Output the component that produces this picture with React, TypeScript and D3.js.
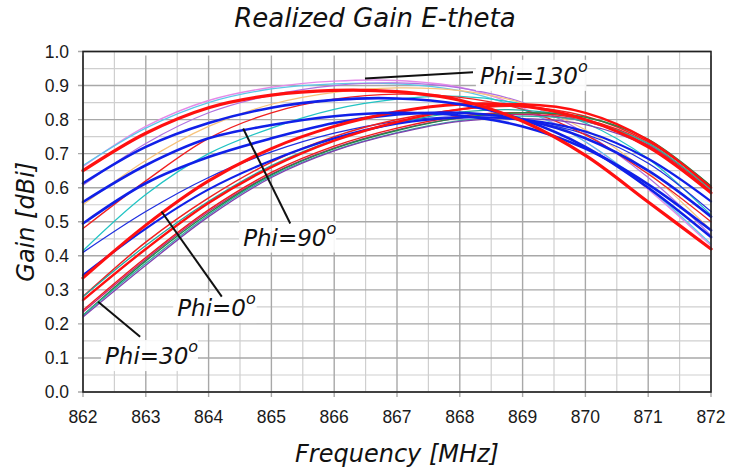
import React, { useEffect } from 'react';
import * as d3 from 'd3';

const freqs = [862, 863, 864, 865, 866, 867, 868, 869, 870, 871, 872];
const xTicks = [862, 863, 864, 865, 866, 867, 868, 869, 870, 871, 872];
const yTicks = [0, 0.1, 0.2, 0.3, 0.4, 0.5, 0.6, 0.7, 0.8, 0.9, 1.0];

// gain per curve, one value per frequency above
const pinkTop = [0.662, 0.78, 0.856, 0.895, 0.913, 0.915, 0.895, 0.835, 0.735, 0.595, 0.43];
const cyanTop = [0.665, 0.775, 0.85, 0.89, 0.905, 0.905, 0.885, 0.83, 0.735, 0.6, 0.435];
const redTop = [0.65, 0.76, 0.835, 0.872, 0.886, 0.882, 0.857, 0.795, 0.695, 0.558, 0.42];
const violetTop = [0.607, 0.73, 0.82, 0.872, 0.9, 0.908, 0.893, 0.85, 0.76, 0.63, 0.46];
const blue1 = [0.613, 0.72, 0.79, 0.835, 0.858, 0.862, 0.845, 0.8, 0.72, 0.6, 0.455];
const orange = [0.55, 0.68, 0.78, 0.845, 0.88, 0.893, 0.885, 0.848, 0.77, 0.645, 0.475];
const blue2 = [0.558, 0.666, 0.745, 0.784, 0.81, 0.82, 0.812, 0.78, 0.715, 0.61, 0.475];
const redThin1 = [0.48, 0.62, 0.745, 0.82, 0.86, 0.875, 0.865, 0.83, 0.755, 0.64, 0.5];
const blue3 = [0.495, 0.613, 0.69, 0.745, 0.79, 0.815, 0.82, 0.8, 0.745, 0.65, 0.515];
const cyanMid = [0.415, 0.58, 0.7, 0.775, 0.83, 0.86, 0.868, 0.845, 0.79, 0.685, 0.52];
const blueThin = [0.41, 0.53, 0.63, 0.705, 0.76, 0.795, 0.808, 0.797, 0.757, 0.672, 0.53];
const blue4 = [0.343, 0.48, 0.595, 0.68, 0.745, 0.788, 0.806, 0.8, 0.765, 0.685, 0.56];
const redMid = [0.335, 0.49, 0.62, 0.715, 0.78, 0.823, 0.845, 0.84, 0.8, 0.72, 0.585];
const redThin2 = [0.28, 0.44, 0.57, 0.675, 0.75, 0.8, 0.83, 0.838, 0.81, 0.735, 0.605];
const teal1 = [0.28, 0.43, 0.56, 0.665, 0.74, 0.79, 0.822, 0.828, 0.8, 0.725, 0.598];
const redLow = [0.27, 0.42, 0.555, 0.66, 0.738, 0.793, 0.83, 0.845, 0.82, 0.74, 0.6];
const redThin3 = [0.24, 0.395, 0.535, 0.645, 0.722, 0.775, 0.81, 0.82, 0.8, 0.73, 0.59];
const magenta = [0.235, 0.39, 0.53, 0.64, 0.717, 0.77, 0.805, 0.815, 0.795, 0.725, 0.585];
const green = [0.225, 0.385, 0.525, 0.638, 0.715, 0.768, 0.805, 0.82, 0.807, 0.742, 0.605];
const teal2 = [0.225, 0.378, 0.52, 0.634, 0.71, 0.762, 0.797, 0.81, 0.795, 0.73, 0.595];
const purple = [0.22, 0.372, 0.515, 0.63, 0.708, 0.76, 0.795, 0.803, 0.785, 0.72, 0.585];

const series = [
  { values: pinkTop, color: '#e48ae8', width: 1.4 },
  { values: cyanTop, color: '#5cc8e8', width: 1.2 },
  { values: violetTop, color: '#b070e0', width: 1.2 },
  { values: orange, color: '#f6c27a', width: 1.2 },
  { values: cyanMid, color: '#22c4c4', width: 1.3 },
  { values: blueThin, color: '#2030e0', width: 1.3 },
  { values: redThin1, color: '#f02020', width: 1.3 },
  { values: redThin2, color: '#f02020', width: 1.5 },
  { values: teal1, color: '#20a8a0', width: 1.3 },
  { values: redThin3, color: '#f01c1c', width: 1.5 },
  { values: magenta, color: '#c82070', width: 1.3 },
  { values: green, color: '#208848', width: 1.4 },
  { values: teal2, color: '#30b0a0', width: 1.3 },
  { values: purple, color: '#8040b0', width: 1.3 },
  { values: blue4, color: '#1020e8', width: 2.2 },
  { values: redLow, color: '#ff1010', width: 2.4 },
  { values: blue3, color: '#1020e8', width: 2.6 },
  { values: redMid, color: '#ff1010', width: 3 },
  { values: blue2, color: '#1020e8', width: 2.6 },
  { values: blue1, color: '#1020e8', width: 2.6 },
  { values: redTop, color: '#ff1010', width: 3.2 },
];

const labels = ['Phi=130', 'Phi=90', 'Phi=0', 'Phi=30'];
// pointer start (on curve), pointer end, text anchor, all in data units
const pointerFrom = [[866.49, 0.921], [864.55, 0.774], [863.25, 0.53], [862.24, 0.265]];
const pointerTo = [[868.21, 0.939], [865.3, 0.495], [864.21, 0.28], [862.91, 0.162]];
const labelAt = [[868.32, 0.905], [864.55, 0.43], [863.5, 0.223], [862.35, 0.082]];

const W = 740;
const H = 470;
const margin = { top: 51.5, right: 29, bottom: 78, left: 83 };

export default function App() {
  useEffect(() => {
    document.body.style.margin = '0';
  }, []);

  const x = d3.scaleLinear().domain([862, 872]).range([margin.left, W - margin.right]);
  const y = d3.scaleLinear().domain([0, 1]).range([H - margin.bottom, margin.top]);

  const line = d3
    .line<number>()
    .x((_, i) => x(freqs[i]))
    .y((d) => y(d))
    .curve(d3.curveCatmullRom.alpha(0.5));

  const minorX = d3.range(862.5, 872, 1);
  const minorY = d3.range(0.05, 1, 0.1);

  const italic = { fontFamily: '"DejaVu Sans", Verdana, sans-serif', fontStyle: 'italic' };
  const tickFont = { fontFamily: '"Liberation Sans", Arial, sans-serif', fontSize: 17.5, fill: '#1a1a1a' };

  return (
    <svg width={W} height={H} style={{ display: 'block', background: '#fff' }}>
      <text x={375} y={27} textAnchor="middle" fontSize={26} fill="#111" style={italic}>
        Realized Gain E-theta
      </text>

      {/* grid */}
      <g>
        {minorX.map((v) => (
          <line key={'mx' + v} x1={x(v)} x2={x(v)} y1={y(0)} y2={y(1)} stroke="#cfcfcf" strokeWidth={1.2} />
        ))}
        {minorY.map((v) => (
          <line key={'my' + v} x1={x(862)} x2={x(872)} y1={y(v)} y2={y(v)} stroke="#cfcfcf" strokeWidth={1.2} />
        ))}
        {xTicks.map((v) => (
          <line key={'gx' + v} x1={x(v)} x2={x(v)} y1={y(0)} y2={y(1) + 4} stroke="#a8a8a8" strokeWidth={1.4} />
        ))}
        {yTicks.map((v) => (
          <line key={'gy' + v} x1={x(862) - 5} x2={x(872)} y1={y(v)} y2={y(v)} stroke="#a8a8a8" strokeWidth={1.4} />
        ))}
        {xTicks.map((v) => (
          <line key={'tx' + v} x1={x(v)} x2={x(v)} y1={y(0)} y2={y(0) + 5} stroke="#a8a8a8" strokeWidth={1.4} />
        ))}
      </g>

      {/* curves */}
      <g fill="none" strokeLinejoin="round" strokeLinecap="round">
        {series.map((s, i) => (
          <path key={i} d={line(s.values) as string} stroke={s.color} strokeWidth={s.width} />
        ))}
      </g>

      {/* frame */}
      <rect x={x(862)} y={y(1)} width={x(872) - x(862)} height={y(0) - y(1)} fill="none" stroke="#222" strokeWidth={1.6} />

      {/* tick labels */}
      {yTicks.map((v) => (
        <text key={'yl' + v} x={x(862) - 14} y={y(v) + 6} textAnchor="end" style={tickFont}>
          {v.toFixed(1)}
        </text>
      ))}
      {xTicks.map((v) => (
        <text key={'xl' + v} x={x(v)} y={y(0) + 31} textAnchor="middle" style={tickFont}>
          {v}
        </text>
      ))}

      {/* annotations */}
      {labels.map((t, i) => {
        const tx = x(labelAt[i][0]);
        const ty = y(labelAt[i][1]);
        const w = t.length * 13.5 + 16;
        return (
          <g key={t}>
            <rect x={tx - 4} y={ty - 24} width={w} height={31} fill="#fff" opacity={0.9} />
            <line
              x1={x(pointerFrom[i][0])}
              y1={y(pointerFrom[i][1])}
              x2={x(pointerTo[i][0])}
              y2={y(pointerTo[i][1])}
              stroke="#111"
              strokeWidth={2}
            />
            <text x={tx} y={ty} fontSize={23} fill="#111" style={italic}>
              {t}
              <tspan fontSize={16} dy={-12}>o</tspan>
            </text>
          </g>
        );
      })}

      <text x={x(867)} y={462} textAnchor="middle" fontSize={24} fill="#111" style={italic}>
        Frequency [MHz]
      </text>
      <text
        transform={`translate(34, ${(y(0) + y(1)) / 2}) rotate(-90)`}
        textAnchor="middle"
        fontSize={24}
        fill="#111"
        style={italic}
      >
        Gain [dBi]
      </text>
    </svg>
  );
}
